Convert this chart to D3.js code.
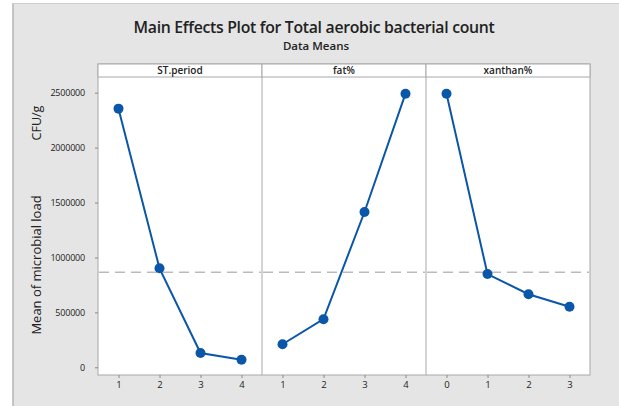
<!DOCTYPE html>
<html>
<head>
<meta charset="utf-8">
<script src="https://cdn.jsdelivr.net/npm/d3@7"></script>
<style>
  body { margin: 0; background: #fff; }
  text { font-family: "Open Sans", "Noto Sans", sans-serif; fill: #222; }
</style>
</head>
<body>
<div id="chart"></div>
<script>
// factors and their level means
var factors = ["ST.period", "fat%", "xanthan%"];
var stLevels = [1, 2, 3, 4];
var stMeans = [2355000, 901000, 130000, 69000];
var fatLevels = [1, 2, 3, 4];
var fatMeans = [210000, 438000, 1414000, 2491000];
var xanLevels = [0, 1, 2, 3];
var xanMeans = [2491000, 849000, 665000, 552000];
var yTicks = [0, 500000, 1000000, 1500000, 2000000, 2500000];
var grandMean = 866000;

var panels = [
  {name: factors[0], levels: stLevels, means: stMeans},
  {name: factors[1], levels: fatLevels, means: fatMeans},
  {name: factors[2], levels: xanLevels, means: xanMeans}
];

var width = 619, height = 406;
var plotLeft = 98, plotRight = 590, stripTop = 64, plotTop = 77, plotBottom = 375;
var panelW = (plotRight - plotLeft) / panels.length;

var svg = d3.select("#chart").append("svg")
    .attr("width", width)
    .attr("height", height);

// grey background frame
svg.append("rect")
    .attr("x", 13).attr("y", 3)
    .attr("width", width - 13).attr("height", height - 3)
    .attr("fill", "#e5e5e5");
svg.append("line").attr("x1", 13).attr("x2", 13).attr("y1", 3).attr("y2", height)
    .attr("stroke", "#b5b5b5").attr("stroke-width", 1.5);
svg.append("line").attr("x1", 13).attr("x2", width).attr("y1", 3.5).attr("y2", 3.5)
    .attr("stroke", "#cfcfcf");

// titles
svg.append("text")
    .attr("x", 314).attr("y", 33)
    .attr("text-anchor", "middle")
    .attr("font-size", "15.8px")
    .attr("font-weight", 600)
    .attr("letter-spacing", "-0.3px")
    .text("Main Effects Plot for Total aerobic bacterial count");
svg.append("text")
    .attr("x", 316).attr("y", 50)
    .attr("text-anchor", "middle")
    .attr("font-size", "11.5px")
    .attr("font-weight", 600)
    .text("Data Means");

// y scale shared by all panels
var y = d3.scaleLinear().domain([0, 2500000]).range([367.3, 92.7]);

// plot background
svg.append("rect")
    .attr("x", plotLeft).attr("y", stripTop)
    .attr("width", plotRight - plotLeft).attr("height", plotBottom - stripTop)
    .attr("fill", "#fff")
    .attr("stroke", "#a8a8a8");

// y axis
var yAxis = svg.append("g")
    .attr("transform", "translate(" + plotLeft + ",0)")
    .call(d3.axisLeft(y).tickValues(yTicks).tickSize(3).tickPadding(10).tickFormat(d3.format("d")));
yAxis.select(".domain").remove();
yAxis.selectAll("line").attr("stroke", "#888");
yAxis.selectAll("text").attr("font-size", "9px").attr("fill", "#222")
    .attr("letter-spacing", "-0.2px")
    .style("font-family", "\"Open Sans\", sans-serif");

// y label
svg.append("text")
    .attr("transform", "translate(41,265) rotate(-90)")
    .attr("text-anchor", "middle")
    .attr("font-size", "13px")
    .attr("fill", "#111")
    .text("Mean of microbial load");
svg.append("text")
    .attr("transform", "translate(41,123) rotate(-90)")
    .attr("text-anchor", "middle")
    .attr("font-size", "12.5px")
    .attr("fill", "#111")
    .text("CFU/g");

var line = d3.line();

panels.forEach(function(p, i) {
  var x0 = plotLeft + i * panelW;
  var lo = d3.min(p.levels), hi = d3.max(p.levels);
  var x = d3.scaleLinear().domain([lo - 0.5, hi + 0.5]).range([x0, x0 + panelW]);

  // strip
  svg.append("rect")
      .attr("x", x0).attr("y", stripTop)
      .attr("width", panelW).attr("height", plotTop - stripTop)
      .attr("fill", "#fff").attr("stroke", "#a8a8a8");
  svg.append("text")
      .attr("x", x0 + panelW / 2).attr("y", plotTop - 3)
      .attr("text-anchor", "middle")
      .attr("font-size", "10px")
      .attr("font-weight", 600)
      .text(p.name);

  // panel divider
  if (i > 0) {
    svg.append("line")
        .attr("x1", x0).attr("x2", x0).attr("y1", plotTop).attr("y2", plotBottom)
        .attr("stroke", "#a8a8a8");
  }

  // x axis
  var xAxis = svg.append("g")
      .attr("transform", "translate(0," + plotBottom + ")")
      .call(d3.axisBottom(x).tickValues(p.levels).tickSize(3).tickPadding(3).tickFormat(d3.format("d")));
  xAxis.select(".domain").remove();
  xAxis.selectAll("line").attr("stroke", "#888");
  xAxis.selectAll("text").attr("font-size", "9.5px").attr("fill", "#222")
      .style("font-family", "\"Open Sans\", sans-serif");

  // grand mean reference
  svg.append("line")
      .attr("x1", x0 + 1).attr("x2", x0 + panelW - 1)
      .attr("y1", y(grandMean)).attr("y2", y(grandMean))
      .attr("stroke", "#9a9a9a")
      .attr("stroke-width", 1)
      .attr("stroke-dasharray", "10,6");

  var pts = p.levels.map(function(l, k) { return [x(l), y(p.means[k])]; });
  svg.append("path")
      .attr("d", line(pts))
      .attr("fill", "none")
      .attr("stroke", "#0a56a8")
      .attr("stroke-width", 2);
  svg.selectAll(null)
      .data(pts)
      .enter()
      .append("circle")
      .attr("cx", function(d) { return d[0]; })
      .attr("cy", function(d) { return d[1]; })
      .attr("r", 5)
      .attr("fill", "#0a56a8");
});
</script>
</body>
</html>
